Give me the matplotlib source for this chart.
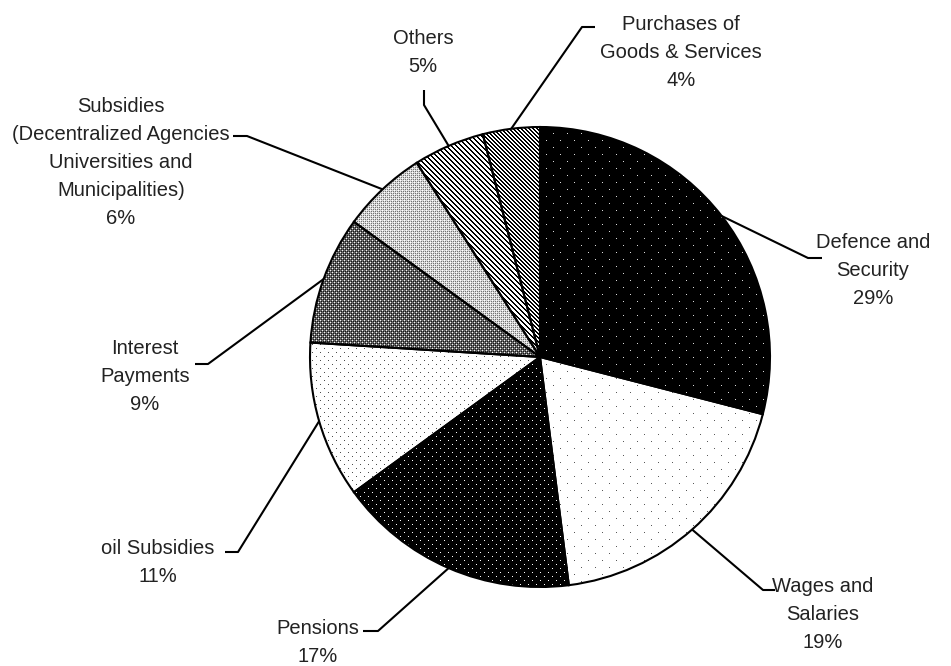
import numpy as np
import matplotlib
matplotlib.use("Agg")
import matplotlib.pyplot as plt

W, H = 951, 666

labels = ["Defence and\nSecurity", "Wages and\nSalaries", "Pensions", "oil Subsidies",
          "Interest\nPayments",
          "Subsidies\n(Decentralized Agencies\nUniversities and\nMunicipalities)",
          "Others", "Purchases of\nGoods & Services"]
values = [29, 19, 17, 11, 9, 6, 5, 4]

# label centre (px, from top-left) and leader elbow / end points
label_pos = [(873, 270), (823, 614), (318, 642), (158, 563), (145, 377), (121, 162), (423, 53), (681, 53)]
elbows = [((808, 258), (822, 258)), ((763, 590), (775, 590)), ((378, 631), (363, 631)),
          ((238, 552), (225, 552)), ((208, 364), (195, 364)), ((247, 136), (233, 136)),
          ((424, 105), (424, 90)), ((582, 27), (595, 27))]

plt.rcParams['font.family'] = ['Liberation Sans', 'DejaVu Sans']

fig = plt.figure(figsize=(W / 100, H / 100), dpi=100)
ax = fig.add_axes([0, 0, 1, 1])

cx, cy, R = 540, H - 357, 230
wedges, _ = ax.pie(values, startangle=90, counterclock=False, center=(cx, cy), radius=R,
                   wedgeprops=dict(facecolor='none', edgecolor='black', linewidth=1.5, zorder=3),
                   frame=True)

yy, xx = np.mgrid[0:H, 0:W]


def dots(bg, fg, px, py):
    img = np.full((H, W), bg, dtype=float)
    m = ((yy % (2 * py) == 0) & (xx % px == 0)) | ((yy % (2 * py) == py) & (xx % px == px // 2))
    img[m] = fg
    return img


def checker(bg, light, dark):
    img = np.full((H, W), bg, dtype=float)
    img[((xx % 4 == 0) & (yy % 4 == 0)) | ((xx % 4 == 2) & (yy % 4 == 2))] = light
    img[(xx % 2 == 1) & (yy % 2 == 1)] = dark
    return img


def stripes(period, width):
    img = np.ones((H, W))
    img[(xx - yy) % period < width] = 0.0
    return img


patterns = [
    dots(0.0, 0.85, 14, 7),
    dots(1.0, 0.35, 14, 7),
    dots(0.0, 1.0, 8, 4),
    dots(1.0, 0.3, 8, 4),
    checker(0.4, 0.95, 0.1),
    checker(0.85, 1.0, 0.45),
    stripes(5, 2),
    stripes(4, 2),
]

for w, img in zip(wedges, patterns):
    im = ax.imshow(img, cmap='gray', vmin=0, vmax=1, extent=(0, W, 0, H), origin='upper',
                   interpolation='nearest', zorder=1)
    im.set_clip_path(w)

for w, lab, v, (tx, ty), (e1, e2) in zip(wedges, labels, values, label_pos, elbows):
    ang = np.deg2rad((w.theta1 + w.theta2) / 2)
    x0, y0 = cx + R * np.cos(ang), cy + R * np.sin(ang)
    ax.plot([x0, e1[0], e2[0]], [y0, H - e1[1], H - e2[1]], color='black', lw=1.5,
            solid_capstyle='butt', zorder=4)
    ax.text(tx, H - ty, f"{lab}\n{v}%", ha='center', va='center', fontsize=14.5,
            linespacing=1.6, color='#222222')

ax.set_xlim(0, W)
ax.set_ylim(0, H)
ax.set_aspect('auto')
ax.axis('off')

fig.savefig("out.png", dpi=100)
